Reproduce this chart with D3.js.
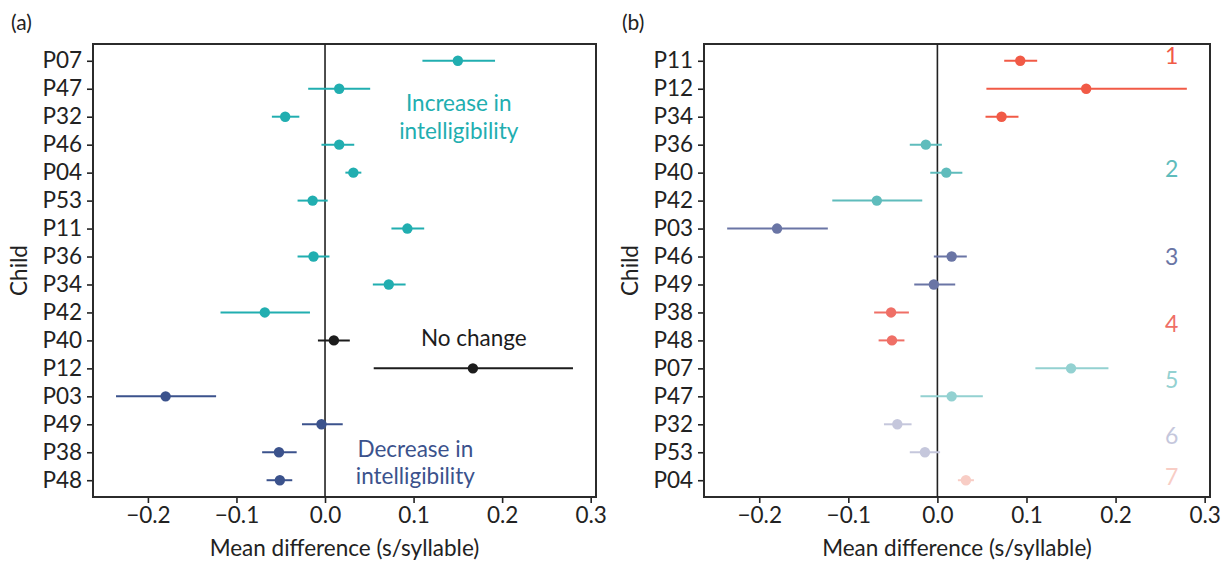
<!DOCTYPE html>
<html>
<head>
<meta charset="utf-8">
<script src="https://cdn.jsdelivr.net/npm/d3@7"></script>
<style>
  body { margin: 0; background: #fff; }
  svg text { font-family: Lato, "Open Sans", sans-serif; fill: #222; }
</style>
</head>
<body>
<div id="chart"></div>
<script>
// Data (panel a order, top to bottom)
var childIds = ["P07", "P47", "P32", "P46", "P04", "P53", "P11", "P36", "P34", "P42", "P40", "P12", "P03", "P49", "P38", "P48"];
var meanDiff = [0.150, 0.016, -0.045, 0.016, 0.032, -0.014, 0.093, -0.013, 0.072, -0.068, 0.010, 0.167, -0.180, -0.004, -0.052, -0.051];
var ciLow    = [0.110, -0.019, -0.060, -0.004, 0.023, -0.031, 0.075, -0.031, 0.054, -0.118, -0.008, 0.055, -0.236, -0.026, -0.071, -0.066];
var ciHigh   = [0.192, 0.051, -0.029, 0.033, 0.041, 0.003, 0.112, 0.005, 0.091, -0.017, 0.028, 0.280, -0.123, 0.020, -0.032, -0.037];
var changeType = ["inc", "inc", "inc", "inc", "inc", "inc", "inc", "inc", "inc", "inc", "none", "none", "dec", "dec", "dec", "dec"];

// Panel b order and cluster of each child
var orderB   = ["P11", "P12", "P34", "P36", "P40", "P42", "P03", "P46", "P49", "P38", "P48", "P07", "P47", "P32", "P53", "P04"];
var clusterB = [1, 1, 1, 2, 2, 2, 3, 3, 3, 4, 4, 5, 5, 6, 6, 7];
var clusterLabels = ["1", "2", "3", "4", "5", "6", "7"];
var clusterRow = [-0.1, 3.95, 7.1, 9.5, 11.5, 13.5, 14.95];   // row position of cluster number

var xTicks = [-0.2, -0.1, 0.0, 0.1, 0.2, 0.3];

var changeColor = { inc: "#21aeb0", none: "#1c1c1c", dec: "#3b528c" };
var clusterColor = ["#f15a46", "#5fbcbc", "#6a75a5", "#ef6f66", "#93d1d1", "#c5c7dc", "#f8cdc5"];

var svgWidth = 1221;
var svgHeight = 562;
var fontSize = "22.5px";

var svg = d3.select("#chart")
  .append("svg")
  .attr("width", svgWidth)
  .attr("height", svgHeight);

var rows = childIds.map(function(id, i) {
  return { id: id, mean: meanDiff[i], lo: ciLow[i], hi: ciHigh[i], type: changeType[i] };
});
var byId = {};
rows.forEach(function(r) { byId[r.id] = r; });

function drawPanel(left, right, tag, order, colorOf) {
  var top = 44, bottom = 497;

  var x = d3.scaleLinear().domain([-0.262, 0.306]).range([left, right]);
  var y = d3.scalePoint().domain(order).range([top, bottom]).padding(0.6);

  var g = svg.append("g");

  // panel tag
  g.append("text")
    .attr("x", left - 82)
    .attr("y", 25)
    .attr("dominant-baseline", "middle")
    .style("font-size", "21px")
    .text(tag);

  // x axis
  var xAxis = g.append("g")
    .attr("transform", "translate(0," + bottom + ")")
    .call(d3.axisBottom(x).tickValues(xTicks).tickSize(6).tickPadding(4)
      .tickFormat(function(d) { return d3.format(".1f")(d).replace("-", "\u2212"); }));
  xAxis.select(".domain").remove();
  xAxis.selectAll("line").attr("stroke", "#222").attr("stroke-width", 1.6);
  xAxis.selectAll("text").style("font-size", fontSize).attr("fill", "#222");

  // y axis
  var yAxis = g.append("g")
    .attr("transform", "translate(" + left + ",0)")
    .call(d3.axisLeft(y).tickSize(6).tickPadding(5));
  yAxis.select(".domain").remove();
  yAxis.selectAll("line").attr("stroke", "#222").attr("stroke-width", 1.6);
  yAxis.selectAll("text").style("font-size", fontSize).attr("fill", "#222");

  // frame
  g.append("rect")
    .attr("x", left).attr("y", top)
    .attr("width", right - left).attr("height", bottom - top)
    .attr("fill", "none").attr("stroke", "#2b2b2b").attr("stroke-width", 2);

  // zero line
  g.append("line")
    .attr("x1", x(0)).attr("x2", x(0))
    .attr("y1", top).attr("y2", bottom)
    .attr("stroke", "#222").attr("stroke-width", 1.6);

  var data = order.map(function(id, i) { return { r: byId[id], i: i }; });

  g.selectAll(".ci")
    .data(data)
    .enter()
    .append("line")
    .attr("x1", d => x(d.r.lo))
    .attr("x2", d => x(d.r.hi))
    .attr("y1", d => y(d.r.id))
    .attr("y2", d => y(d.r.id))
    .attr("stroke", d => colorOf(d))
    .attr("stroke-width", 2);

  g.selectAll(".dot")
    .data(data)
    .enter()
    .append("circle")
    .attr("cx", d => x(d.r.mean))
    .attr("cy", d => y(d.r.id))
    .attr("r", 5.2)
    .attr("fill", d => colorOf(d));

  // axis titles
  g.append("text")
    .attr("x", (left + right) / 2)
    .attr("y", 550)
    .attr("text-anchor", "middle")
    .attr("dominant-baseline", "middle")
    .style("font-size", fontSize)
    .text("Mean difference (s/syllable)");

  g.append("text")
    .attr("transform", "translate(" + (left - 72) + "," + ((top + bottom) / 2) + ") rotate(-90)")
    .attr("text-anchor", "middle")
    .attr("dominant-baseline", "middle")
    .style("font-size", fontSize)
    .text("Child");

  return { g: g, x: x, y: y, step: y.step(), first: y(order[0]) };
}

// Panel (a)
var pa = drawPanel(93, 596, "(a)", childIds, function(d) { return changeColor[d.r.type]; });

function note(p, xv, yPix, lines, color) {
  lines.forEach(function(t, i) {
    p.g.append("text")
      .attr("x", p.x(xv))
      .attr("y", yPix + i * 27.5)
      .attr("text-anchor", "middle")
      .attr("dominant-baseline", "middle")
      .style("font-size", fontSize)
      .style("fill", color)
      .text(t);
  });
}
note(pa, 0.151, pa.first + 1.6 * pa.step, ["Increase in", "intelligibility"], changeColor.inc);
note(pa, 0.168, pa.first + 10 * pa.step, ["No change"], changeColor.none);
note(pa, 0.102, pa.first + 13.95 * pa.step, ["Decrease in", "intelligibility"], changeColor.dec);

// Panel (b)
var pb = drawPanel(704, 1210, "(b)", orderB, function(d) { return clusterColor[clusterB[d.i] - 1]; });

pb.g.selectAll(".cluster")
  .data(clusterLabels)
  .enter()
  .append("text")
  .attr("x", pb.x(0.263))
  .attr("y", (d, i) => pb.first + clusterRow[i] * pb.step)
  .attr("text-anchor", "middle")
  .attr("dominant-baseline", "middle")
  .style("font-size", "23px")
  .style("fill", (d, i) => clusterColor[i])
  .text(d => d);
</script>
</body>
</html>
